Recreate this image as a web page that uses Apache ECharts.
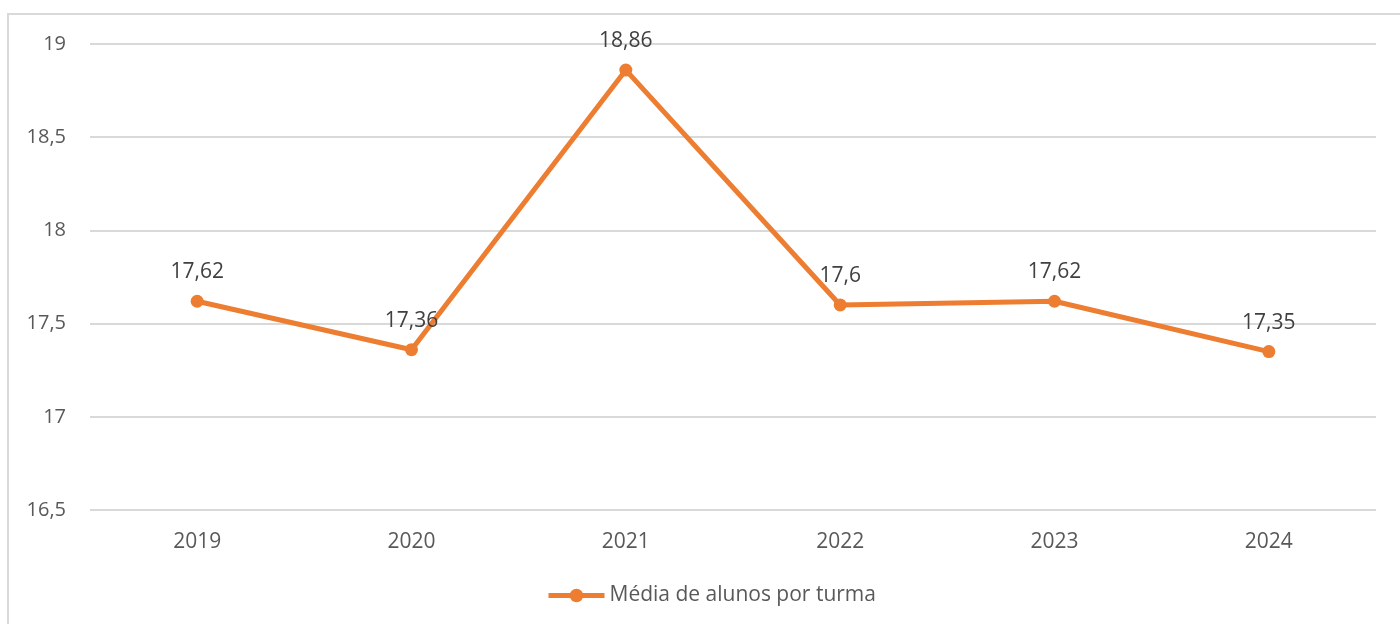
<!DOCTYPE html>
<html>
<head>
<meta charset="utf-8">
<script src="https://cdn.jsdelivr.net/npm/echarts@6/dist/echarts.min.js"></script>
<style>
  html, body { margin: 0; padding: 0; background: #fff; }
  #chart { width: 1400px; height: 624px; }
</style>
</head>
<body>
<div id="chart"></div>
<script>
const years = ['2019', '2020', '2021', '2022', '2023', '2024'];
const media = [17.62, 17.36, 18.86, 17.6, 17.62, 17.35];
const seriesName = 'Média de alunos por turma';

const chart = echarts.init(document.getElementById('chart'));
const fontFam = '"Open Sans", "Noto Sans", sans-serif';

// numbers use decimal comma
function comma(v) {
	return String(v).replace('.', ',');
}

const option = {
	animation: false,
	textStyle: { fontFamily: fontFam },
	graphic: [
		{
			type: 'rect',
			shape: { x: 8, y: 14, width: 1400, height: 620 },
			style: { fill: 'none', stroke: '#d9d9d9', lineWidth: 2 }
		}
	],
	grid: { left: 90, right: 24, top: 44, bottom: 114 },
	legend: {
		bottom: 13,
		left: 541,
		itemWidth: 56,
		itemHeight: 17,
		itemGap: 4,
		itemStyle: { color: '#ED7D31' },
		lineStyle: { color: '#ED7D31', width: 5 },
		textStyle: { color: '#595959', fontSize: 21, fontFamily: fontFam },
		data: [seriesName]
	},
	xAxis: {
		type: 'category',
		data: years,
		axisLine: { show: false },
		axisTick: { show: false },
		axisLabel: { color: '#595959', fontSize: 21, margin: 22 }
	},
	yAxis: {
		type: 'value',
		min: 16.5,
		max: 19,
		interval: 0.5,
		axisLine: { show: false },
		axisTick: { show: false },
		axisLabel: { color: '#595959', fontSize: 20, margin: 24, formatter: comma },
		splitLine: { lineStyle: { color: '#d9d9d9', width: 2 } }
	},
	series: [
		{
			name: seriesName,
			type: 'line',
			data: media,
			symbol: 'circle',
			symbolSize: 13,
			itemStyle: { color: '#ED7D31' },
			lineStyle: { color: '#ED7D31', width: 5 },
			label: {
				show: true,
				position: 'top',
				distance: 12,
				color: '#404040',
				fontSize: 21,
				formatter: (p) => comma(p.value)
			}
		}
	]
};

chart.setOption(option);
</script>
</body>
</html>
